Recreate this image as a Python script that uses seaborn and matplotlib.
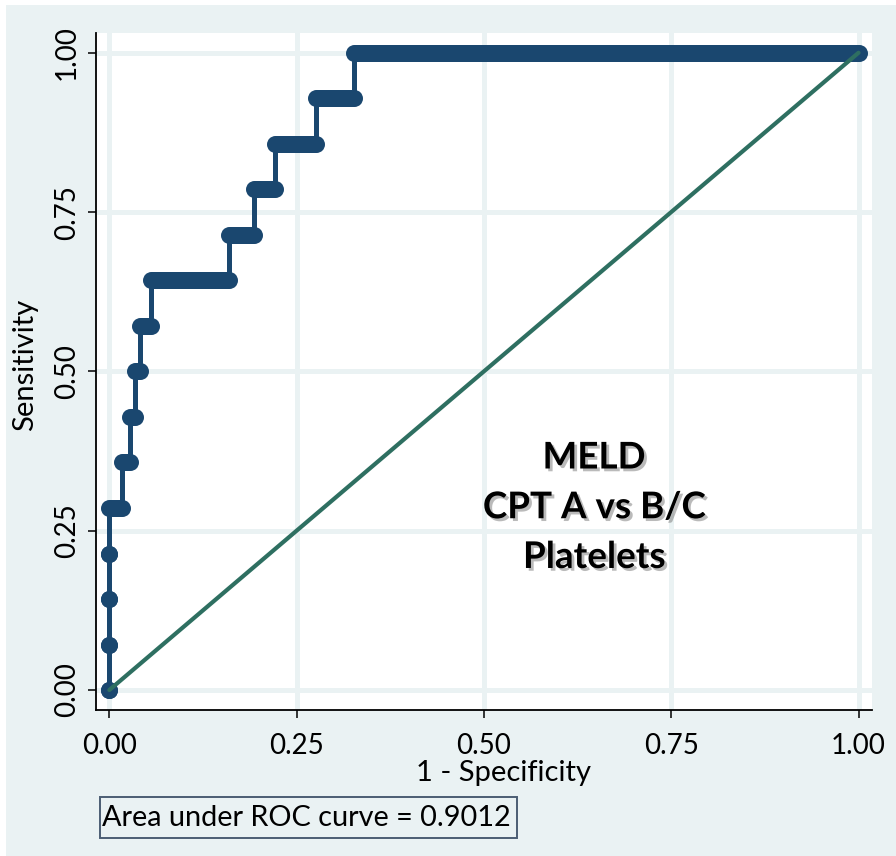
import matplotlib
matplotlib.use("Agg")
import matplotlib.pyplot as plt
import matplotlib.patheffects as pe
from matplotlib.patches import Rectangle
import numpy as np
import pandas as pd
import seaborn as sns

# ---- data ----
tpr_levels = [0.000, 0.071, 0.143, 0.214, 0.286, 0.357, 0.429, 0.500,
              0.571, 0.643, 0.714, 0.786, 0.857, 0.929, 1.000]
fpr_start = [0.000, 0.000, 0.000, 0.000, 0.000, 0.017, 0.027, 0.034,
             0.041, 0.055, 0.160, 0.193, 0.221, 0.276, 0.326]
fpr_end = [0.000, 0.000, 0.000, 0.000, 0.017, 0.027, 0.034, 0.041,
           0.055, 0.160, 0.193, 0.221, 0.276, 0.326, 1.000]
ref_x = [0.0, 1.0]
ref_y = [0.0, 1.0]
ticks = [0.00, 0.25, 0.50, 0.75, 1.00]
tick_labels = ["0.00", "0.25", "0.50", "0.75", "1.00"]
auc_text = "Area under ROC curve = 0.9012"
annot_lines = ["MELD", "CPT A vs B/C", "Platelets"]

NAVY = "#1A476F"
GREEN = "#2E6F61"
BG = "#EAF2F3"

sns.set_style("white")
plt.rcParams["font.family"] = ["Lato", "DejaVu Sans"]

W, H = 896, 856
fig = plt.figure(figsize=(W / 100, H / 100), dpi=100)
fig.patch.set_facecolor("white")
fig.patches.append(Rectangle((6 / W, 0), (W - 6) / W, (H - 5) / H,
                             transform=fig.transFigure, facecolor=BG,
                             edgecolor="none", zorder=-10))

ax = fig.add_axes([96 / W, (H - 710) / H, 776 / W, 677 / H])
ax.set_facecolor("white")

# curve vertices (connected path through each level)
curve_x, curve_y = [], []
for t, s, e in zip(tpr_levels, fpr_start, fpr_end):
    curve_x += [s, e]
    curve_y += [t, t]
df_curve = pd.DataFrame({"fpr": curve_x, "tpr": curve_y})

# thick bars for dense marker runs
df_bars = pd.DataFrame({
    "fpr": curve_x,
    "tpr": curve_y,
    "level": np.repeat(np.arange(len(tpr_levels)), 2),
})
span = df_bars.groupby("level")["fpr"].transform(lambda v: v.max() - v.min())

mk_pt = 17 * 72 / 100.0

sns.lineplot(data=df_curve, x="fpr", y="tpr", sort=False, estimator=None,
             color=NAVY, lw=3.6, ax=ax, zorder=3)
sns.lineplot(data=df_bars[span > 0], x="fpr", y="tpr", units="level",
             estimator=None, color=NAVY, lw=mk_pt, solid_capstyle="butt",
             ax=ax, zorder=3)
sns.scatterplot(data=df_bars, x="fpr", y="tpr", color=NAVY, s=mk_pt ** 2,
                linewidth=0, ax=ax, zorder=4)

sns.lineplot(x=ref_x, y=ref_y, color=GREEN, lw=3.0, ax=ax, zorder=5)

ax.set_xlim(-0.0178, 1.018)
ax.set_ylim(-0.0314, 1.031)
ax.set_xticks(ticks)
ax.set_xticklabels(tick_labels)
ax.set_yticks(ticks)
ax.set_yticklabels(tick_labels, rotation=90, va="center")
ax.grid(True, color=BG, lw=3.6, zorder=0)
ax.set_axisbelow(True)

for side in ["top", "right"]:
    ax.spines[side].set_visible(False)
for side in ["left", "bottom"]:
    ax.spines[side].set_color("black")
    ax.spines[side].set_linewidth(1.3)
    ax.spines[side].set_zorder(6)

ax.tick_params(axis="both", direction="out", length=5.5, width=1.1,
               color="black", labelsize=20, labelcolor="black",
               bottom=True, left=True)
ax.tick_params(axis="x", pad=11)
ax.tick_params(axis="y", pad=6)

ax.set_xlabel("1 - Specificity", fontsize=21, color="black")
ax.set_ylabel("Sensitivity", fontsize=21, color="black")
ax.xaxis.set_label_coords((503 - 96) / 776, (710 - 773) / 677)
ax.yaxis.set_label_coords((25 - 96) / 776, (710 - 365) / 677)
ax.xaxis.label.set_va("center")
ax.yaxis.label.set_va("center")

ax.text(0.647, 0.286, "\n".join(annot_lines), ha="center", va="center",
        fontsize=26.5, fontweight="bold", color="black", linespacing=1.62,
        path_effects=[pe.withSimplePatchShadow(offset=(2, -2),
                                               shadow_rgbFace="#777777",
                                               alpha=0.5)],
        zorder=7)

fig.patches.append(Rectangle((100 / W, 1 - 838 / H), 417 / W, 41 / H,
                             transform=fig.transFigure, facecolor="none",
                             edgecolor="#4B5D73", lw=1.4, zorder=5))
fig.text(102 / W, 1 - 818 / H, auc_text, ha="left", va="center",
         fontsize=20.8, color="black")

fig.savefig("out.png", dpi=100, facecolor=fig.get_facecolor())
